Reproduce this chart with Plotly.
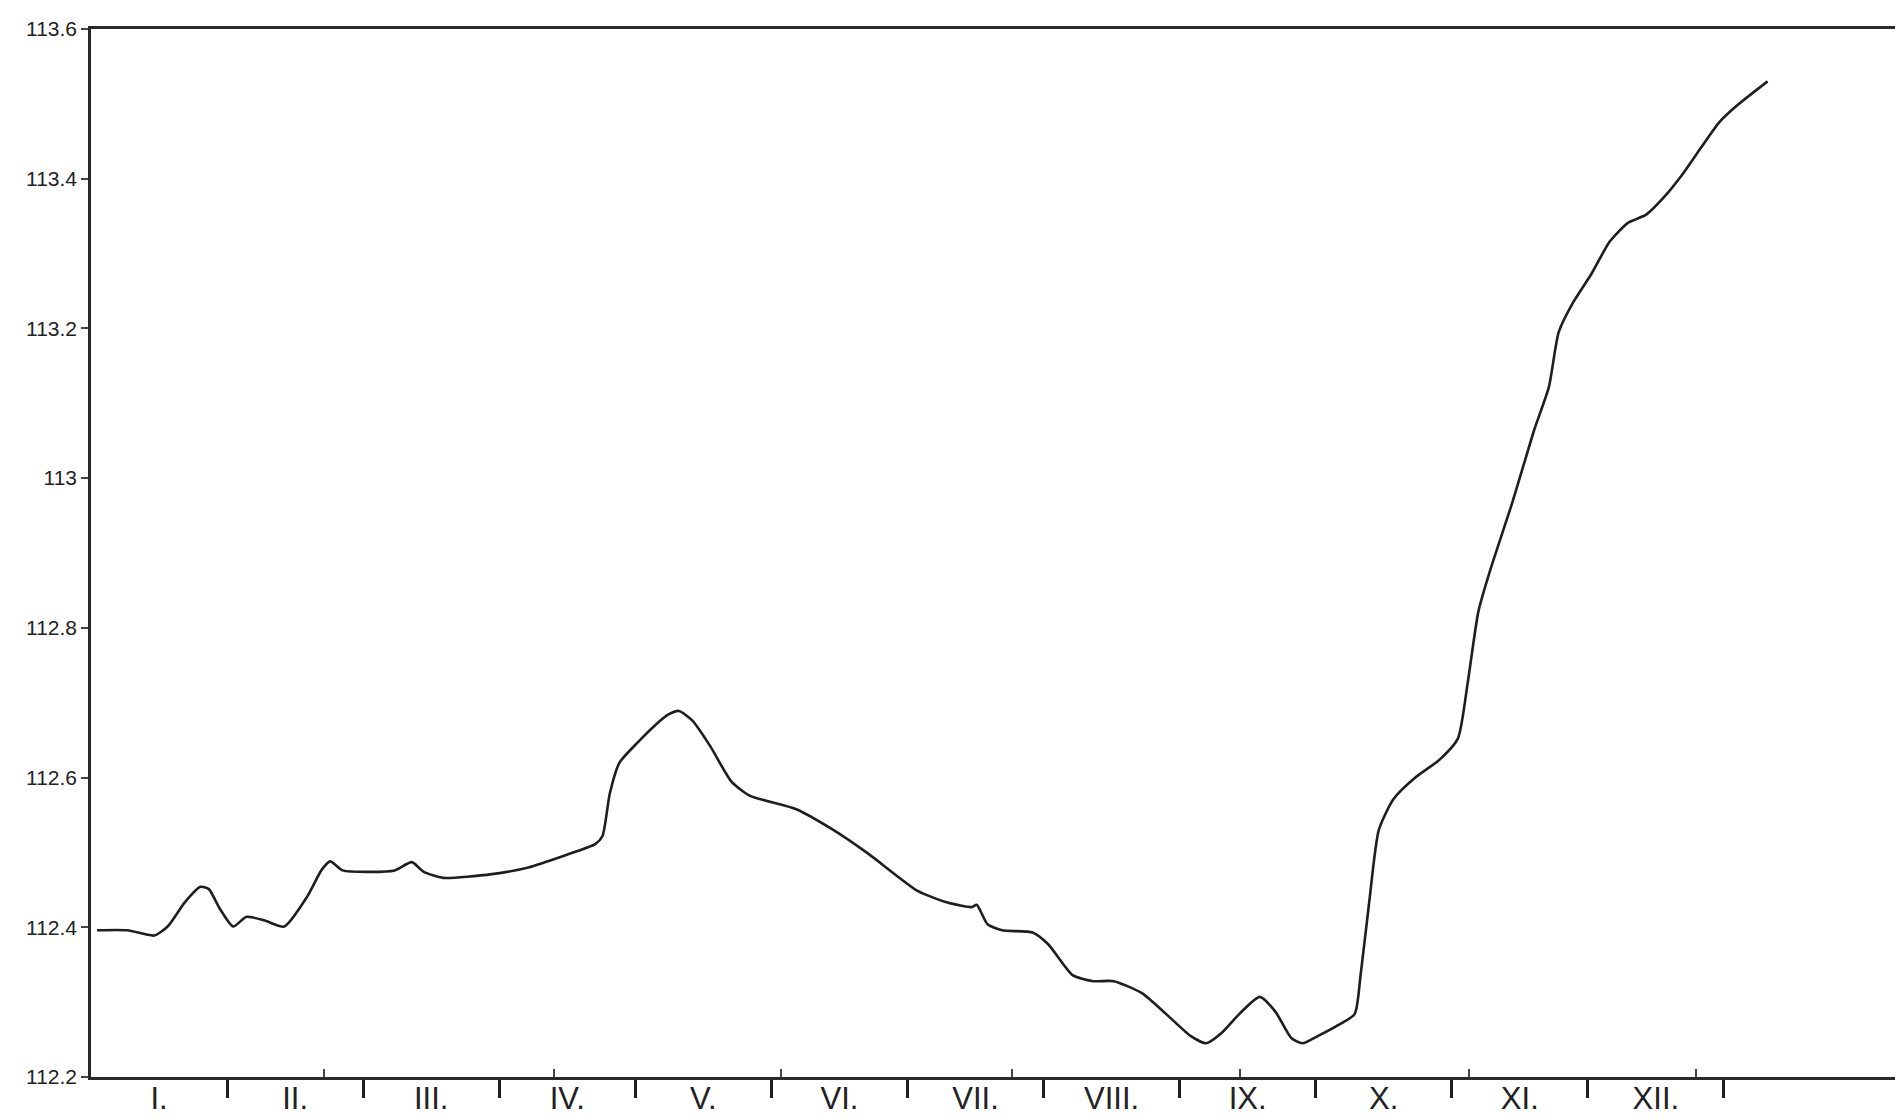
import plotly.graph_objects as go

# Data: position along the year (months from start of January) and value
month_pos = [0.045, 0.268, 0.464, 0.563, 0.688, 0.804, 0.866, 0.946, 1.045, 1.143,
             1.277, 1.420, 1.589, 1.696, 1.759, 1.848, 2.054, 2.232, 2.357, 2.446,
             2.589, 2.946, 3.214, 3.482, 3.705, 3.759, 3.813, 3.884, 4.018, 4.152,
             4.241, 4.321, 4.420, 4.554, 4.705, 4.839, 5.179, 5.446, 5.714, 6.071,
             6.295, 6.473, 6.509, 6.589, 6.696, 6.920, 7.036, 7.214, 7.366, 7.518,
             7.723, 7.902, 8.080, 8.196, 8.304, 8.438, 8.589, 8.705, 8.821, 8.902,
             9.018, 9.152, 9.286, 9.330, 9.393, 9.464, 9.571, 9.732, 9.911, 10.045,
             10.116, 10.196, 10.286, 10.446, 10.607, 10.714, 10.786, 10.893, 11.027, 11.161,
             11.295, 11.429, 11.563, 11.696, 11.830, 11.964, 12.098, 12.321]
values = [112.396, 112.396, 112.389, 112.401, 112.433, 112.454, 112.451, 112.425, 112.401, 112.414,
          112.409, 112.401, 112.441, 112.477, 112.488, 112.476, 112.474, 112.476, 112.487, 112.474,
          112.466, 112.471, 112.480, 112.496, 112.511, 112.522, 112.579, 112.620, 112.647, 112.671,
          112.684, 112.689, 112.676, 112.641, 112.595, 112.576, 112.558, 112.531, 112.498, 112.449,
          112.433, 112.427, 112.430, 112.404, 112.396, 112.393, 112.377, 112.336, 112.328, 112.328,
          112.312, 112.284, 112.255, 112.245, 112.258, 112.284, 112.307, 112.287, 112.252, 112.245,
          112.255, 112.268, 112.284, 112.336, 112.433, 112.530, 112.571, 112.600, 112.624, 112.652,
          112.725, 112.822, 112.879, 112.968, 113.065, 113.122, 113.195, 113.235, 113.273, 113.316,
          113.341, 113.352, 113.376, 113.406, 113.441, 113.475, 113.498, 113.530]

month_labels = ["I.", "II.", "III.", "IV.", "V.", "VI.", "VII.", "VIII.", "IX.", "X.", "XI.", "XII."]
month_centers = [i + 0.5 for i in range(12)]
month_bounds = [i + 1 for i in range(12)]
y_ticks = [112.2, 112.4, 112.6, 112.8, 113.0, 113.2, 113.4, 113.6]
y_tick_text = ["112.2", "112.4", "112.6", "112.8", "113", "113.2", "113.4", "113.6"]
category_ticks = [1.714, 3.402, 5.071, 6.768, 8.446, 10.125, 11.795]

x_range = [0, 13.375]

fig = go.Figure()
fig.add_trace(go.Scatter(
    x=month_pos, y=values, mode="lines",
    line=dict(color="#1e1e1e", width=2.6, shape="spline", smoothing=0.6),
    hoverinfo="skip", showlegend=False,
))
# invisible helper traces so the overlay axes (labels / inside ticks) are drawn
for ax in ("x2", "x3"):
    fig.add_trace(go.Scatter(x=[x_range[0]], y=[values[0]], xaxis=ax, mode="markers",
                             marker=dict(opacity=0), showlegend=False, hoverinfo="skip"))

label_font = dict(family="Liberation Sans Narrow, Arial Narrow, Liberation Sans, Arial, sans-serif",
                  size=31, color="#222")

fig.update_layout(
    width=1903, height=1120,
    margin=dict(l=83, r=0, t=21, b=51),
    paper_bgcolor="white", plot_bgcolor="white",
    xaxis=dict(
        range=x_range, showgrid=False, zeroline=False,
        showline=True, linecolor="#2a2a2a", linewidth=2.5, mirror=True,
        tickmode="array", tickvals=month_bounds, ticktext=[""] * len(month_bounds),
        ticks="outside", ticklen=18, tickwidth=2.5, tickcolor="#1e1e1e",
    ),
    xaxis2=dict(
        range=x_range, overlaying="x", side="bottom", anchor="y",
        showgrid=False, zeroline=False, showline=False,
        tickmode="array", tickvals=month_centers, ticktext=month_labels,
        ticks="", ticklen=0, tickfont=label_font, ticklabelstandoff=0,
    ),
    xaxis3=dict(
        range=x_range, overlaying="x", side="bottom", anchor="y",
        showgrid=False, zeroline=False, showline=False, showticklabels=False,
        tickmode="array", tickvals=category_ticks,
        ticks="inside", ticklen=8, tickwidth=1.5, tickcolor="#444",
    ),
    yaxis=dict(
        range=[112.2, 113.6], showgrid=False, zeroline=False,
        showline=True, linecolor="#2a2a2a", linewidth=2.5,
        tickmode="array", tickvals=y_ticks, ticktext=y_tick_text,
        ticks="outside", ticklen=7, tickwidth=1.5, tickcolor="#444",
        tickfont=dict(family="Liberation Sans, Arial, sans-serif", size=21, color="#222"),
    ),
)

fig.write_html("out.html")
